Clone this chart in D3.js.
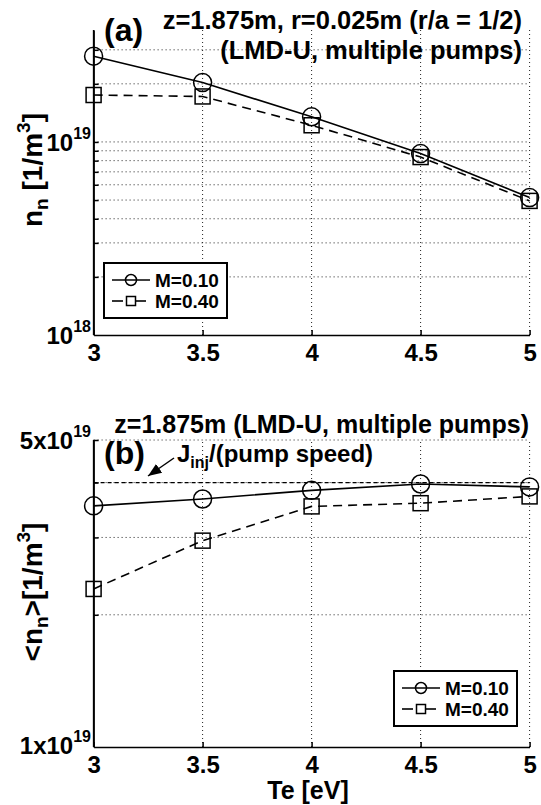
<!DOCTYPE html>
<html>
<head>
<meta charset="utf-8">
<script src="https://d3js.org/d3.v7.min.js"></script>
<style>
body { margin:0; background:#fff; }
svg { display:block; font-family:"Liberation Sans", Arial, sans-serif; font-weight:bold; }
.grid { stroke:#222; stroke-width:1; stroke-dasharray:1,3; fill:none; }
.axis path, .axis line { stroke:#000; stroke-width:1.5; }
.axis text { font-family:"Liberation Sans", Arial, sans-serif; font-weight:bold; font-size:24px; fill:#000; }
.series { fill:none; stroke:#000; stroke-width:1.6; }
.mark { fill:none; stroke:#000; stroke-width:1.5; }
</style>
</head>
<body>
<script>
// Te [eV]
var te = [3, 3.5, 4, 4.5, 5];
// (a) n_n at r/a = 1/2
var nnA_M010 = [2.78e19, 2.03e19, 1.35e19, 8.7e18, 5.15e18];
var nnA_M040 = [1.75e19, 1.72e19, 1.22e19, 8.35e18, 4.95e18];
// (b) <n_n>
var nnB_M010 = [3.54e19, 3.67e19, 3.84e19, 3.97e19, 3.91e19];
var nnB_M040 = [2.29e19, 2.95e19, 3.53e19, 3.59e19, 3.72e19];
var jInj = 4.0e19;

var xTicks = [3, 3.5, 4, 4.5, 5];
var gridA = [2e18, 3e18, 4e18, 5e18, 6e18, 7e18, 8e18, 9e18, 1e19, 2e19, 3e19];
var gridB = [2e19, 3e19, 4e19, 5e19];
var legendNames = ["M=0.10", "M=0.40"];

var width = 541, height = 805;
var svg = d3.select("body").append("svg")
    .attr("width", width)
    .attr("height", height);

var x = d3.scaleLinear().domain([3, 5]).range([93.6, 529.6]);
var yA = d3.scaleLog().domain([1e18, 3.8e19]).range([335, 30]);
var yB = d3.scaleLog().domain([1e19, 5e19]).range([747, 440]);

function panel(y, grid) {
  var g = svg.append("g");
  var y0 = y.range()[0], y1 = y.range()[1];

  g.selectAll(".vgrid")
      .data(xTicks.slice(1))
    .enter().append("line")
      .attr("class", "grid")
      .attr("x1", function(d) { return x(d); })
      .attr("x2", function(d) { return x(d); })
      .attr("y1", y0).attr("y2", y1);

  g.selectAll(".hgrid")
      .data(grid)
    .enter().append("line")
      .attr("class", "grid")
      .attr("x1", x(3)).attr("x2", x(5))
      .attr("y1", function(d) { return y(d); })
      .attr("y2", function(d) { return y(d); });

  g.append("g")
      .attr("class", "axis")
      .attr("transform", "translate(0," + y0 + ")")
      .call(d3.axisBottom(x).tickValues(xTicks).tickSize(-5).tickSizeOuter(0)
        .tickPadding(9).tickFormat(d3.format("")));

  g.append("g")
      .attr("class", "axis")
      .attr("transform", "translate(" + x(3) + ",0)")
      .call(d3.axisLeft(y).tickValues(grid).tickSize(-5).tickSizeOuter(0).tickFormat(""));

  // left axis runs full height
  g.append("line")
      .attr("x1", x(3)).attr("x2", x(3))
      .attr("y1", y0).attr("y2", y1)
      .attr("stroke", "#000").attr("stroke-width", 1.5);
  return g;
}

function series(g, y, vals, dashed, marker) {
  var line = d3.line()
      .x(function(d, i) { return x(te[i]); })
      .y(function(d) { return y(d); });
  g.append("path")
      .datum(vals)
      .attr("class", "series")
      .attr("stroke-dasharray", dashed ? "9,6" : null)
      .attr("d", line);
  if (marker == "circle") {
    g.selectAll(null).data(vals).enter().append("circle")
        .attr("class", "mark")
        .attr("cx", function(d, i) { return x(te[i]); })
        .attr("cy", function(d) { return y(d); })
        .attr("r", 9);
  } else {
    g.selectAll(null).data(vals).enter().append("rect")
        .attr("class", "mark")
        .attr("x", function(d, i) { return x(te[i]) - 7.5; })
        .attr("y", function(d) { return y(d) - 7.5; })
        .attr("width", 15).attr("height", 15);
  }
}

function legend(lx, ly) {
  var g = svg.append("g").attr("transform", "translate(" + lx + "," + ly + ")");
  g.append("rect").attr("width", 123).attr("height", 55)
      .attr("fill", "#fff").attr("stroke", "#000").attr("stroke-width", 2);
  legendNames.forEach(function(name, i) {
    var yy = 17 + i * 21;
    if (i == 0) {
      g.append("line").attr("x1", 8).attr("x2", 46).attr("y1", yy).attr("y2", yy)
          .attr("stroke", "#000").attr("stroke-width", 1.6);
      g.append("circle").attr("class", "mark").attr("cx", 27).attr("cy", yy).attr("r", 5.5)
          .attr("fill", "#fff");
    } else {
      // dashed sample: one dash each side of the marker
      [[8, 19], [32, 42]].forEach(function(s) {
        g.append("line").attr("x1", s[0]).attr("x2", s[1]).attr("y1", yy).attr("y2", yy)
            .attr("stroke", "#000").attr("stroke-width", 1.6);
      });
      g.append("rect").attr("class", "mark").attr("x", 22.5).attr("y", yy - 4.5)
          .attr("width", 9).attr("height", 9).attr("fill", "#fff");
    }
    g.append("text").attr("x", 51).attr("y", yy + 7)
        .style("font-size", "19px").text(name);
  });
}

function powLabel(px, py, base, exp) {
  var t = svg.append("text").attr("x", px).attr("y", py)
      .attr("text-anchor", "end").style("font-size", "24px");
  t.append("tspan").text(base);
  t.append("tspan").attr("dy", -12).style("font-size", "16px").text(exp);
}

// ---- panel (a)
var ga = panel(yA, gridA);
series(ga, yA, nnA_M010, false, "circle");
series(ga, yA, nnA_M040, true, "square");
legend(104, 263);

powLabel(91, 151, "10", "19");
powLabel(91, 344, "10", "18");

svg.append("text").attr("x", 104).attr("y", 41).style("font-size", "32px").text("(a)");
svg.append("text").attr("x", 522).attr("y", 29).attr("text-anchor", "end")
    .style("font-size", "25.5px").text("z=1.875m, r=0.025m (r/a = 1/2)");
svg.append("text").attr("x", 522).attr("y", 59).attr("text-anchor", "end")
    .style("font-size", "25.5px").text("(LMD-U, multiple pumps)");

var la = svg.append("text").attr("transform", "translate(42,170) rotate(-90)")
    .attr("text-anchor", "middle").style("font-size", "28px");
la.append("tspan").text("n");
la.append("tspan").attr("dy", 6).style("font-size", "19px").text("n");
la.append("tspan").attr("dy", -6).text(" [1/m");
la.append("tspan").attr("dy", -12).style("font-size", "19px").text("3");
la.append("tspan").attr("dy", 12).text("]");

// ---- panel (b)
var gb = panel(yB, gridB);
gb.append("line")
    .attr("x1", x(3)).attr("x2", x(5))
    .attr("y1", yB(jInj)).attr("y2", yB(jInj))
    .attr("stroke", "#000").attr("stroke-width", 1.3).attr("stroke-dasharray", "4,3");
series(gb, yB, nnB_M010, false, "circle");
series(gb, yB, nnB_M040, true, "square");
legend(394, 671);

powLabel(91, 449, "5x10", "19");
powLabel(91, 754, "1x10", "19");

svg.append("text").attr("x", 104).attr("y", 464).style("font-size", "32px").text("(b)");
svg.append("text").attr("x", 529).attr("y", 433).attr("text-anchor", "end")
    .style("font-size", "25px").text("z=1.875m (LMD-U, multiple pumps)");

var jt = svg.append("text").attr("x", 177).attr("y", 462).style("font-size", "24px");
jt.append("tspan").text("J");
jt.append("tspan").attr("dy", 6).style("font-size", "16px").text("inj");
jt.append("tspan").attr("dy", -6).text("/(pump speed)");

svg.append("defs").append("marker")
    .attr("id", "arrow").attr("viewBox", "0 0 10 10")
    .attr("refX", 10).attr("refY", 5)
    .attr("markerWidth", 9).attr("markerHeight", 9)
    .attr("orient", "auto")
  .append("path").attr("d", "M0,1 L10,5 L0,9 Z").attr("fill", "#000");
svg.append("line")
    .attr("x1", 174).attr("y1", 458).attr("x2", 148).attr("y2", 476)
    .attr("stroke", "#000").attr("stroke-width", 1.5)
    .attr("marker-end", "url(#arrow)");

var lb = svg.append("text").attr("transform", "translate(42,592) rotate(-90)")
    .attr("text-anchor", "middle").style("font-size", "28px");
lb.append("tspan").text("<n");
lb.append("tspan").attr("dy", 6).style("font-size", "19px").text("n");
lb.append("tspan").attr("dy", -6).text(">[1/m");
lb.append("tspan").attr("dy", -12).style("font-size", "19px").text("3");
lb.append("tspan").attr("dy", 12).text("]");

svg.append("text").attr("x", 308).attr("y", 799).attr("text-anchor", "middle")
    .style("font-size", "25px").text("Te [eV]");
</script>
</body>
</html>
